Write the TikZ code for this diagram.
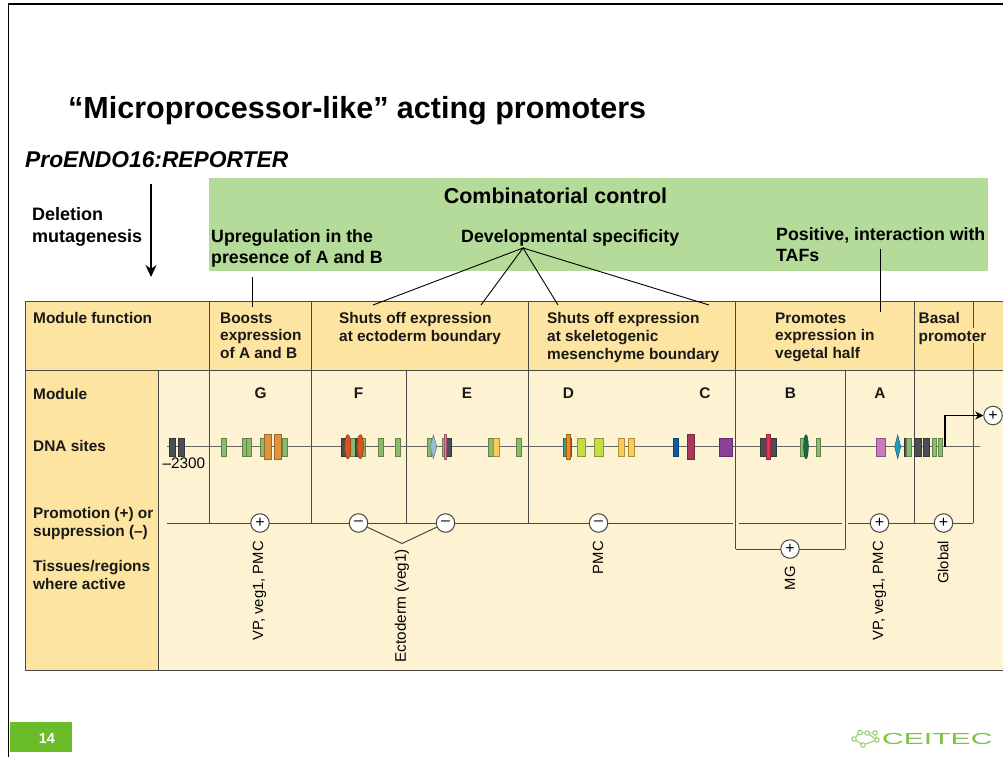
\documentclass[tikz,border=0pt]{standalone}
\usepackage{fontspec}
\usetikzlibrary{arrows.meta}
\setmainfont{Liberation Sans}
\definecolor{leaf}{HTML}{B4DB9A}
\definecolor{hdr}{HTML}{FDE4A0}
\definecolor{bodyc}{HTML}{FDF3D3}
\definecolor{rule}{HTML}{4A4A44}
\definecolor{sgreen}{HTML}{8DBB6E}
\definecolor{sdark}{HTML}{4B4F55}
\definecolor{sorange}{HTML}{E0953C}
\definecolor{sred}{HTML}{D9541E}
\definecolor{syellow}{HTML}{FDCB58}
\definecolor{slime}{HTML}{C6DE46}
\definecolor{ceitec}{HTML}{7CC243}
\definecolor{footg}{HTML}{6ABD28}
\definecolor{lblue}{HTML}{8FBFD0}
\definecolor{pinkx}{HTML}{E8799A}
\definecolor{tealx}{HTML}{2E9E8A}
\definecolor{orangex}{HTML}{F08C1E}
\definecolor{bluex}{HTML}{0A5FA0}
\definecolor{crimx}{HTML}{A83A55}
\definecolor{purpx}{HTML}{8C4199}
\definecolor{redx}{HTML}{E8304F}
\definecolor{dgreenx}{HTML}{1C6A45}
\definecolor{orchx}{HTML}{C97AC0}
\definecolor{cyanx}{HTML}{1E9CC0}
\newcommand{\site}[3]{\filldraw[fill=#3,draw=black!30!#3,line width=.7pt] (#1,438) rectangle (#2,456);}
\newcommand{\tsite}[3]{\filldraw[fill=#3,draw=black!30!#3,line width=.7pt] (#1,434.7) rectangle (#2,459);}
\newcommand{\lens}[3]{\filldraw[fill=#3,draw=black!30!#3,line width=.6pt] (#1,446.7) ellipse ({#2} and 12);}
\newcommand{\dia}[3]{\filldraw[fill=#3,draw=black!30!#3,line width=.6pt] (#1-#2,446.7) -- (#1,435) -- (#1+#2,446.7) -- (#1,458.5) -- cycle;}
\tikzset{
 x=1pt,y=-1pt,
 hd/.style={anchor=north west,align=left,font=\fontsize{15.4}{17.7}\selectfont\bfseries,inner sep=0pt,text=black!90},
 gt/.style={anchor=north west,align=left,font=\fontsize{17.75}{21}\selectfont\bfseries,inner sep=0pt},
 rot/.style={rotate=90,anchor=east,font=\fontsize{15.3}{17}\selectfont,inner sep=0pt},
 rots/.style={rotate=90,anchor=east,font=\fontsize{14.8}{17}\selectfont,inner sep=0pt},
 grid/.style={draw=rule,line width=1pt},
 sign/.style={circle,draw=rule,fill=white,line width=1pt,minimum size=18.5pt,inner sep=0pt,font=\fontsize{16}{16}\selectfont},
 thinb/.style={draw=black,line width=.9pt},
 netn/.style={circle,draw=ceitec,fill=white,line width=.8pt,inner sep=0pt,minimum size=4.5pt}
}
\begin{document}
\begin{tikzpicture}
\useasboundingbox (0,0) rectangle (1003,757);
\fill[white] (0,0) rectangle (1003,757);
% slide frame
\draw[black,line width=1.8pt] (1003,4) -- (8.5,4) -- (8.5,757);
\node[anchor=west,inner sep=0pt,font=\fontsize{30.5}{30.5}\selectfont\bfseries] (title) at (68,110.5) {“Microprocessor-like” acting promoters};
\node[anchor=west,inner sep=0pt,font=\fontsize{22.8}{22.8}\selectfont\bfseries\itshape] (pro) at (25,160) {ProENDO16:REPORTER};
\node[anchor=north west,align=left,inner sep=0pt,font=\fontsize{18}{22}\selectfont\bfseries] (del) at (32,207) {Deletion\\mutagenesis};
\coordinate (arT) at (151,184);
\coordinate (arB) at (151,277);
\draw[black,line width=2.5pt,-{Stealth[length=12pt,width=11pt]}] (arT) -- (arB);
% green band
\fill[leaf] (209,178) rectangle (988,271);
\node[anchor=center,inner sep=0pt,font=\fontsize{21.5}{21.5}\selectfont\bfseries] (cc) at (555.5,196) {Combinatorial control};
\node[gt] (up) at (211,229.5) {Upregulation in the\\presence of A and B};
\node[gt] (dev) at (461,229.5) {Developmental specificity};
\node[gt] (pos) at (776,227.5) {Positive, interaction with\\TAFs};
% table
\fill[hdr] (25,301) rectangle (1003,370);
\fill[hdr] (25,370) rectangle (158.5,670);
\fill[bodyc] (158.5,371) rectangle (1003,670);
\draw[grid] (1003,301) -- (25,301) -- (25,670) -- (1003,670);
\draw[grid] (25,370) -- (1003,370);
\draw[grid] (158.5,370) -- (158.5,670);
\draw[grid] (209.5,301) -- (209.5,523);
\draw[grid] (311,301) -- (311,523);
\draw[grid] (406,370) -- (406,523);
\draw[grid] (528,301) -- (528,523);
\draw[grid] (735.5,301) -- (735.5,549);
\draw[grid] (845,370) -- (845,549);
\draw[grid] (914,301) -- (914,523);
\draw[grid] (973,301) -- (973,328) (973,343) -- (973,523);
% leader lines
\coordinate (apex) at (523,248);
\coordinate (l1) at (373,305);
\coordinate (l2) at (481,305);
\coordinate (l3) at (558,305);
\coordinate (l4) at (709,305);
\coordinate (u1) at (252,277);
\coordinate (u2) at (252,307);
\coordinate (t1) at (880.5,249);
\coordinate (t2) at (880.5,312);
\draw[thinb] (l1) -- (apex) -- (l2) (apex) -- (l3) (apex) -- (l4);
\draw[thinb] (u1) -- (u2);
\draw[thinb] (t1) -- (t2);
% header texts
\node[hd] (mf) at (33,312) {Module function};
\node[hd] at (220,312.5) {Boosts\\expression\\of A and B};
\node[hd] at (339,312.5) {Shuts off expression\\at ectoderm boundary};
\node[hd] at (547,312.5) {Shuts off expression\\at skeletogenic\\mesenchyme boundary};
\node[hd] at (775,312.5) {Promotes\\expression in\\vegetal half};
\node[hd] at (918.5,312.5) {Basal\\promoter};
\node[hd] at (33,388) {Module};
\node[hd] at (33,440.5) {DNA sites};
\node[hd] at (33,507) {Promotion (+) or\\suppression (–)};
\node[hd] at (33,560.5) {Tissues/regions\\where active};
\foreach \n/\x in {G/260.5,F/358.5,E/467,D/568.5,C/705,B/790.5,A/880}
  \node[hd,anchor=north] at (\x,388) {\n};
% DNA
\draw[draw=rule!85,line width=1.1pt] (167,446.7) -- (980,446.7);
\site{169}{175.3}{sdark}\site{178}{184.3}{sdark}
\node[anchor=north west,inner sep=0pt,font=\fontsize{15.3}{15.3}\selectfont] at (162.5,458) {–2300};
\site{221.7}{226.3}{sgreen}\site{242}{246.7}{sgreen}\site{246.7}{251}{sgreen}
\site{260.3}{264.5}{sgreen}\site{282.3}{287}{sgreen}
\tsite{264.3}{271}{sorange}\tsite{274.3}{281}{sorange}
\site{341}{346}{sdark}\site{350.7}{355}{sgreen}\site{355}{358}{sdark}\site{362.3}{365.7}{sgreen}
\lens{347.8}{3.1}{sred}\lens{360.3}{3.2}{sred}
\site{378.3}{383}{sgreen}\site{395.3}{400}{sgreen}
\site{427.3}{431}{sgreen}\dia{433.4}{3.4}{lblue}
\site{442.3}{445}{sgreen}\site{446.7}{451}{sdark}\tsite{444}{446.7}{pinkx}
\site{488.3}{493}{sgreen}\site{493}{499}{syellow}\site{516.7}{521.3}{sgreen}
\site{563.3}{571.7}{tealx}\tsite{566}{570.7}{orangex}
\site{577}{585.7}{slime}\site{594.3}{603.3}{slime}
\site{618}{624}{syellow}\site{628}{634}{syellow}
\site{673}{678.7}{bluex}\tsite{687}{694}{crimx}\site{719.7}{732}{purpx}
\site{760}{776.7}{sdark}\tsite{766.7}{770}{redx}
\site{800.3}{804}{sgreen}\lens{806}{2.3}{dgreenx}\site{816.3}{820.7}{sgreen}
\site{876}{885.3}{orchx}\dia{897.7}{3}{cyanx}
\site{904.3}{906.7}{sdark}\site{906.7}{911.3}{sgreen}
\site{914}{921}{sdark}\site{923}{929.3}{sdark}\site{932.3}{936.7}{sgreen}\site{938.3}{942.7}{sgreen}
% promoter arrow
\node[sign] (pTop) at (993,415.5) {+};
\coordinate (tss) at (945,446.7);
\draw[black,line width=1.8pt,-{Stealth[length=8pt,width=8pt]}] (tss) |- (pTop);
% regulatory line
\draw[grid] (167,523) -- (733,523) (738.5,523) -- (842,523) (848,523) -- (973,523);
\draw[grid] (735.5,549) -- (845,549);
\coordinate (vee) at (402,543.5);
\node[sign] (pG) at (260,523) {+};
\node[sign] (mF) at (358.5,523) {–};
\node[sign] (mE) at (445.5,523) {–};
\node[sign] (mD) at (598.5,523) {–};
\node[sign] (pMG) at (790,549) {+};
\node[sign] (pA) at (879.5,523) {+};
\node[sign] (pB) at (943.5,523) {+};
\draw[grid] (mF) -- (vee) -- (mE);
\node[rots] at (259.5,541) {VP, veg1, PMC};
\node[rot] at (402,549) {Ectoderm (veg1)};
\node[rots] at (598,541) {PMC};
\node[rots] at (790,566) {MG};
\node[rots] at (879.5,541) {VP, veg1, PMC};
\node[rots] at (943,541) {Global};
% footer
\fill[footg] (10,722) rectangle (72,752);
\node[text=white,font=\fontsize{14.5}{14.5}\selectfont\bfseries,inner sep=0pt] (num) at (47,738.5) {14};
% logo
\node[netn] (n1) at (854,739) {};\node[netn] (n2) at (860,732.5) {};\node[netn] (n3) at (867,733) {};
\node[netn] (n4) at (875,733) {};\node[netn] (n5) at (877,740) {};\node[netn] (n6) at (863,745) {};
\draw[ceitec,line width=.8pt] (n1) -- (n2) -- (n3) -- (n4) -- (n5) -- (n6) -- (n1) (n3) -- (n5);
\node[anchor=west,inner sep=0pt,text=ceitec,font=\fontsize{16}{16}\selectfont] (logo) at (882,738.5) {\scalebox{1.88}[1]{CEITEC}};
\end{tikzpicture}
\end{document}
